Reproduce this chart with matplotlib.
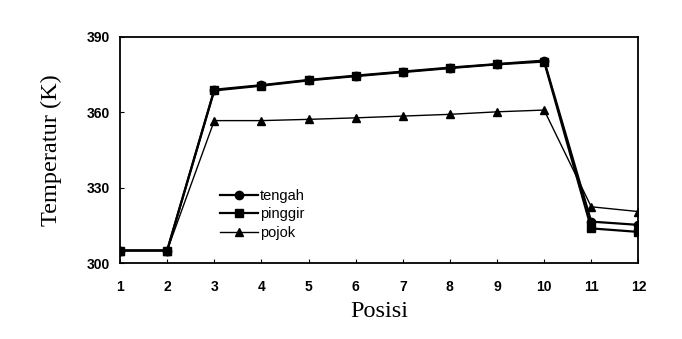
import matplotlib
matplotlib.use("Agg")
import matplotlib.pyplot as plt

posisi = [1, 2, 3, 4, 5, 6, 7, 8, 9, 10, 11, 12]
tengah = [305, 305, 369, 370.8, 372.9, 374.6, 376.2, 377.8, 379.2, 380.6, 316.5, 315.2]
pinggir = [305, 305, 368.7, 370.6, 372.7, 374.4, 376.0, 377.6, 379.1, 380.2, 313.8, 312.4]
pojok = [305, 305, 356.7, 356.7, 357.2, 357.8, 358.5, 359.2, 360.2, 360.9, 322.4, 320.5]
labels = ["tengah", "pinggir", "pojok"]
yticks = [300, 330, 360, 390]

fig = plt.figure(figsize=(6.82, 3.39), dpi=100)
ax = fig.add_axes([0.176, 0.224, 0.76, 0.667])

ax.plot(posisi, tengah, color="black", lw=1.6, marker="o", ms=6, label=labels[0], zorder=3)
ax.plot(posisi, pinggir, color="black", lw=1.6, marker="s", ms=6, label=labels[1], zorder=3)
ax.plot(posisi, pojok, color="black", lw=1.0, marker="^", ms=6, label=labels[2], zorder=3)

ax.set_xlim(1, 12)
ax.set_ylim(300, 390)
ax.set_xticks(posisi)
ax.set_yticks(yticks)
ax.tick_params(direction="in", length=3, width=0.8, labelsize=10)
ax.tick_params(axis="x", pad=12)
ax.tick_params(axis="y", pad=7)
for lab in ax.get_xticklabels() + ax.get_yticklabels():
    lab.set_family("Liberation Sans")
    lab.set_fontweight("bold")
for s in ax.spines.values():
    s.set_linewidth(1.3)

ax.set_xlabel("Posisi", family="Liberation Serif", fontsize=17.5, labelpad=5)
ax.set_ylabel("Temperatur (K)", family="Liberation Serif", fontsize=17.5, labelpad=18)

leg = ax.legend(loc="upper left", bbox_to_anchor=(0.178, 0.36), frameon=False,
                prop={"family": "Liberation Sans", "size": 10.5},
                handlelength=2.6, handletextpad=0.15, labelspacing=0.3, borderpad=0)

fig.savefig("out.png", dpi=100, facecolor="white")
